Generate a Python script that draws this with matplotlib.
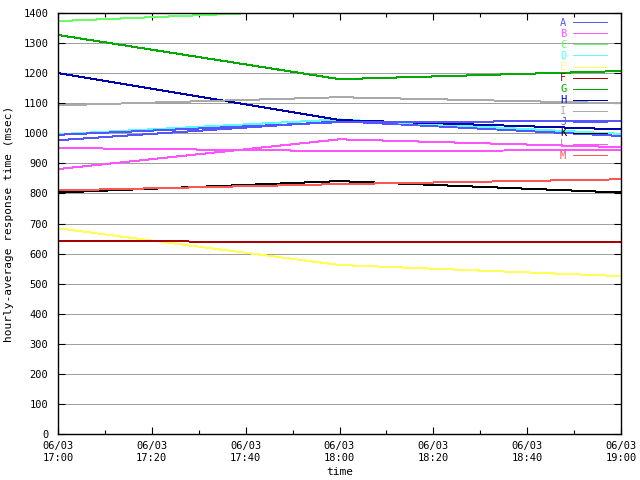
import matplotlib
matplotlib.use("Agg")
import matplotlib.pyplot as plt

# sample times: minutes after 06/03 17:00
t = [0, 60, 120]

names = ["A", "B", "C", "D", "E", "F", "G", "H", "I", "J", "K", "L", "M"]
colors = ["#5555ff", "#ff55ff", "#66ff66", "#55ffff", "#ffff55", "#aa0000",
          "#00aa00", "#0000aa", "#aaaaaa", "#5555ff", "#000000", "#ff55ff", "#ff5555"]

A = [977, 1040, 991]
B = [881, 980, 954]
C = [1373, 1412, 1430]
D = [997, 1046, 998]
E = [684, 562, 525]
F = [642, 638, 640]
G = [1327, 1180, 1207]
H = [1200, 1044, 1013]
I = [1093, 1120, 1100]
J = [995, 1037, 1041]
K = [803, 841, 803]
L = [951, 941, 944]
M = [810, 831, 847]
series = [A, B, C, D, E, F, G, H, I, J, K, L, M]

xticks = [0, 20, 40, 60, 80, 100, 120]
xlabels = ["06/03\n17:00", "06/03\n17:20", "06/03\n17:40", "06/03\n18:00",
           "06/03\n18:20", "06/03\n18:40", "06/03\n19:00"]

plt.rcParams['font.family'] = 'DejaVu Sans Mono'
plt.rcParams['font.size'] = 7.5

fig = plt.figure(figsize=(6.4, 4.8), dpi=100)
ax = fig.add_axes([58/640, 46/480, 563/640, 421/480])

for name, vals, c in zip(names, series, colors):
    ax.plot(t, vals, color=c, lw=0.72, label=name, antialiased=False)

ax.set_xlim(0, 120)
ax.set_ylim(0, 1400)
ax.set_yticks(range(0, 1401, 100))
ax.set_xticks(xticks)
ax.set_xticklabels(xlabels, linespacing=1.25)
ax.set_xticks(range(10, 120, 20), minor=True)
ax.yaxis.grid(True, color="#a0a0a0", lw=0.72, antialiased=False)
ax.set_axisbelow(True)
ax.tick_params(direction="in", length=5, width=0.8, top=True, right=True, pad=7)
ax.tick_params(axis="x", pad=5)
ax.tick_params(which="minor", direction="in", length=3, width=0.8, top=True)
for s in ax.spines.values():
    s.set_linewidth(1)

ax.set_xlabel("time", labelpad=3, fontsize=8)
ax.set_ylabel("hourly-average response time (msec)", labelpad=7, fontsize=8)

leg = ax.legend(loc="upper right", bbox_to_anchor=(0.9825, 0.998), frameon=False,
                markerfirst=False, labelcolor="linecolor", handlelength=3.3,
                labelspacing=0.1, borderaxespad=0, borderpad=0.4,
                handletextpad=0.6, fontsize=7.5)

fig.savefig("out.png", dpi=100)
